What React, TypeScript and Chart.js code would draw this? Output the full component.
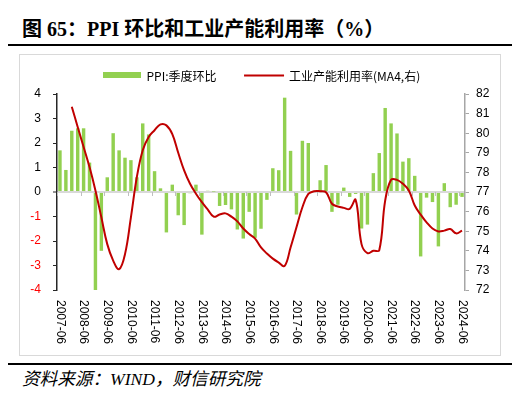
import React, { useEffect, useRef } from "react";
import { Chart, registerables } from "chart.js";

Chart.register(...registerables);

const categories: string[] = [
  "2007-06", "2007-09", "2007-12",
  "2008-03", "2008-06", "2008-09", "2008-12",
  "2009-03", "2009-06", "2009-09", "2009-12",
  "2010-03", "2010-06", "2010-09", "2010-12",
  "2011-03", "2011-06", "2011-09", "2011-12",
  "2012-03", "2012-06", "2012-09", "2012-12",
  "2013-03", "2013-06", "2013-09", "2013-12",
  "2014-03", "2014-06", "2014-09", "2014-12",
  "2015-03", "2015-06", "2015-09", "2015-12",
  "2016-03", "2016-06", "2016-09", "2016-12",
  "2017-03", "2017-06", "2017-09", "2017-12",
  "2018-03", "2018-06", "2018-09", "2018-12",
  "2019-03", "2019-06", "2019-09", "2019-12",
  "2020-03", "2020-06", "2020-09", "2020-12",
  "2021-03", "2021-06", "2021-09", "2021-12",
  "2022-03", "2022-06", "2022-09", "2022-12",
  "2023-03", "2023-06", "2023-09", "2023-12",
  "2024-03", "2024-06",
];

const ppiQoQ: number[] = [
  1.7, 0.9, 2.5, 2.6, 2.6, 1.2, -4.1, -2.4, 0.6, 2.4,
  1.7, 1.4, 1.3, 0.6, 2.8, 2.35, 0.85, 0.15, -1.65, 0.3,
  -0.95, -1.35, -0.05, 0.3, -1.74, 0.05, 0.02, -0.57, -0.53, -0.71,
  -1.53, -1.9, -0.81, -1.87, -1.5, -0.32, 0.97, 0.89, 3.85, 1.68,
  -0.92, 2.09, 2.0, 0.05, 0.48, 1.1, -0.81, -0.52, 0.18, -0.2,
  -0.08, -1.49, -1.33, 0.77, 1.59, 3.43, 2.8, 2.39, 1.24, 1.38,
  0.66, -2.63, -0.23, -0.41, -2.22, 0.36, -0.62, -0.52, -0.2,
];

const capacityMA4: (number | null)[] = [
  null, null, 81.35, 80.32, 79.3, 78.27, 77.08, 75.71, 74.34, 73.5,
  73.06, 73.83, 75.71, 77.76, 79.13, 79.81, 80.15, 80.45, 80.4, 79.95,
  79.0, 78.1, 77.42, 76.91, 76.48, 76.1, 75.74, 75.85, 75.91, 75.74,
  75.5, 75.14, 74.86, 74.62, 74.17, 73.86, 73.6, 73.4, 73.23, 74.17,
  75.2, 76.22, 76.9, 77.04, 77.04, 76.99, 76.4, 76.26, 76.19, 76.14,
  76.6, 74.34, 73.88, 74.0, 74.03, 76.56, 77.62, 77.62, 77.42, 77.08,
  76.31, 75.85, 75.45, 75.14, 74.99, 75.03, 75.11, 74.89, 75.03,
];

const barLabel = "PPI:季度环比";
const lineLabel = "工业产能利用率(MA4,右)";
const titleText = "图 65：PPI 环比和工业产能利用率（%）";
const sourceText = "资料来源：WIND，财信研究院";

const GREEN = "#92d050";
const RED = "#c00000";
const TICK_FONT = '"Liberation Sans", Arial, sans-serif';
const LEGEND_FONT = '"Noto Sans CJK SC", "Liberation Sans", sans-serif';

export default function App() {
  const ref = useRef<HTMLCanvasElement | null>(null);

  useEffect(() => {
    const canvas = ref.current;
    if (!canvas) return;

    const overlay = {
      id: "overlay",
      afterDraw(chart: any) {
        const ctx = chart.ctx as CanvasRenderingContext2D;
        const xs = chart.scales.x;
        const ys = chart.scales.y;
        const area = chart.chartArea;
        const zeroY = ys.getPixelForValue(0);
        const step = xs.getPixelForValue(1) - xs.getPixelForValue(0);
        ctx.save();
        // yearly tick marks on the zero line
        ctx.strokeStyle = "#bfbfbf";
        ctx.lineWidth = 1;
        categories.forEach((c, i) => {
          if (!c.endsWith("-06")) return;
          const px = Math.round(xs.getPixelForValue(i) - step / 2) + 0.5;
          ctx.beginPath();
          ctx.moveTo(px, zeroY);
          ctx.lineTo(px, zeroY + 4);
          ctx.stroke();
        });
        // rotated category labels
        ctx.fillStyle = "#000";
        ctx.font = `12px ${TICK_FONT}`;
        ctx.textAlign = "left";
        ctx.textBaseline = "middle";
        categories.forEach((c, i) => {
          if (!c.endsWith("-06")) return;
          const px = xs.getPixelForValue(i);
          ctx.save();
          ctx.translate(px, area.bottom + 10);
          ctx.rotate(Math.PI / 2);
          ctx.fillText(c, 0, 0);
          ctx.restore();
        });
        // legend
        const ds = chart.data.datasets;
        ctx.font = `12px ${LEGEND_FONT}`;
        ctx.fillStyle = ds[1].backgroundColor;
        ctx.fillRect(83, 17, 38, 6);
        ctx.fillStyle = "#000";
        ctx.fillText(ds[1].label, 126.5, 21);
        const w1 = ctx.measureText(ds[1].label).width;
        const lx = 126.5 + w1 + 27.5;
        ctx.strokeStyle = ds[0].borderColor;
        ctx.lineWidth = 2;
        ctx.beginPath();
        ctx.moveTo(lx, 20.5);
        ctx.lineTo(lx + 40, 20.5);
        ctx.stroke();
        ctx.fillText(ds[0].label, lx + 45, 21);
        ctx.restore();
      },
    };

    const chart = new Chart(canvas, {
      type: "bar",
      data: {
        labels: categories,
        datasets: [
          {
            type: "line",
            label: lineLabel,
            data: capacityMA4,
            yAxisID: "y1",
            borderColor: RED,
            backgroundColor: RED,
            borderWidth: 2,
            pointRadius: 0,
            tension: 0.4,
            order: 1,
          } as any,
          {
            type: "bar",
            label: barLabel,
            data: ppiQoQ,
            yAxisID: "y",
            backgroundColor: GREEN,
            barPercentage: 0.58,
            categoryPercentage: 1,
            order: 2,
          },
        ],
      },
      options: {
        responsive: false,
        animation: false,
        devicePixelRatio: 1,
        layout: { padding: { top: 39, bottom: 65, left: 0, right: 0 } },
        plugins: { legend: { display: false }, tooltip: { enabled: false } },
        scales: {
          x: {
            type: "category",
            offset: true,
            grid: { display: false },
            border: { display: false },
            ticks: { display: false },
            afterFit: (s: any) => {
              s.height = 0;
            },
          },
          y: {
            position: "left",
            min: -4,
            max: 4,
            ticks: {
              stepSize: 1,
              padding: 12,
              font: { size: 12, family: TICK_FONT },
              color: (c: any) => (c.tick.value < 0 ? "#ff0000" : "#000"),
            },
            grid: {
              drawOnChartArea: true,
              color: (c: any) => (c.tick && c.tick.value === 0 ? "#d9d9d9" : "rgba(0,0,0,0)"),
              lineWidth: (c: any) => (c.tick && c.tick.value === 0 ? 2 : 1),
              tickColor: "#262626",
              tickLength: 4,
              tickWidth: 1,
            },
            border: { display: true, color: "#262626", width: 1.5 },
            afterFit: (s: any) => {
              s.width = 37;
            },
          },
          y1: {
            position: "right",
            min: 72,
            max: 82,
            ticks: {
              stepSize: 1,
              padding: 7,
              font: { size: 12, family: TICK_FONT },
              color: "#000",
            },
            grid: {
              drawOnChartArea: false,
              tickColor: "#a6a6a6",
              tickLength: 4,
              tickWidth: 1,
            },
            border: { display: true, color: "#a6a6a6", width: 1.5 },
            afterFit: (s: any) => {
              s.width = 35;
            },
          },
        },
      },
      plugins: [overlay],
    });

    return () => chart.destroy();
  }, []);

  return (
    <div
      style={{
        position: "absolute",
        left: 0,
        top: 0,
        width: 531,
        height: 406,
        background: "#fff",
        overflow: "hidden",
      }}
    >
      <div
        style={{
          position: "absolute",
          left: 22,
          top: 19,
          whiteSpace: "nowrap",
          font: 'bold 20px/20px "Liberation Serif", "Times New Roman", "Noto Sans CJK SC", serif',
          color: "#000",
        }}
      >
        {titleText}
      </div>
      <div style={{ position: "absolute", left: 8, top: 44, width: 504, height: 2, background: "#000" }} />
      <div
        style={{
          position: "absolute",
          left: 19,
          top: 54,
          width: 482,
          height: 302,
          border: "1px solid #d9d9d9",
          boxSizing: "border-box",
        }}
      />
      <canvas
        ref={ref}
        width={480}
        height={300}
        style={{ position: "absolute", left: 20, top: 55, width: 480, height: 300 }}
      />
      <div style={{ position: "absolute", left: 8, top: 363, width: 504, height: 2, background: "#000" }} />
      <div
        style={{
          position: "absolute",
          left: 22,
          top: 370,
          whiteSpace: "nowrap",
          font: 'italic 17.6px/18px "Liberation Serif", "Times New Roman", "Noto Sans CJK SC", serif',
          color: "#000",
        }}
      >
        {sourceText}
      </div>
    </div>
  );
}
